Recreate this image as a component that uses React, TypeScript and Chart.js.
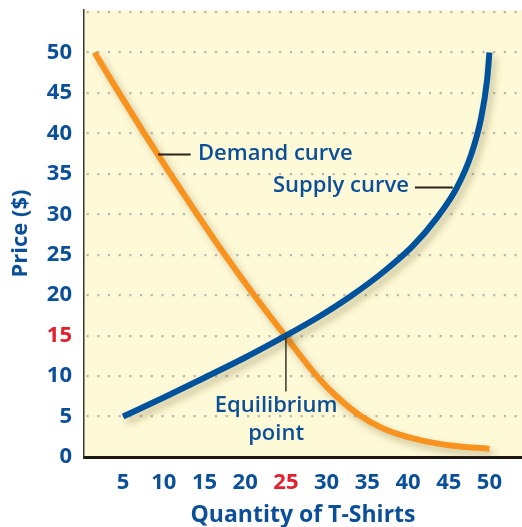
import React, { useEffect, useRef } from "react";
import { Chart, registerables } from "chart.js";

Chart.register(...registerables);

// ---- Data ----
const demandQty = [1.5, 4.5, 7.6, 10.8, 14.1, 17.5, 21.1, 24.9, 28.8, 31.2, 34.0, 37, 41, 45, 50];
const demandPrice = [50, 45, 40, 35, 30, 25, 20, 15, 10, 7.5, 5.2, 3.5, 2.2, 1.45, 1];
const supplyQty = [5, 10, 15, 20, 25, 29, 33, 37, 40.5, 43.5, 46, 47.8, 49, 49.7, 50];
const supplyPrice = [5, 7.35, 9.8, 12.3, 15, 17.3, 19.9, 22.9, 26, 29.5, 33.3, 37.5, 42, 46.5, 50];
const xTicks = [5, 10, 15, 20, 25, 30, 35, 40, 45, 50];
const yTicks = [0, 5, 10, 15, 20, 25, 30, 35, 40, 45, 50, 55];
const yTickLabels = ["0", "5", "10", "15", "20", "25", "30", "35", "40", "45", "50", ""];
const highlightX = 25;
const highlightY = 15;

// annotation anchors (data units)
const demandLabel = { text: "Demand curve", x: 14.2, y: 37.5, lineFrom: 9.3, lineTo: 13.3, lineY: 37.4 };
const supplyLabel = { text: "Supply curve", x: 40.1, y: 33.5, lineFrom: 40.85, lineTo: 45.5, lineY: 33.3 };
const eqLabel = { lines: ["Equilibrium", "point"], x: 23.8, y: [6.3, 2.85], pointX: 25, pointY: 15, lineBottom: 8.1 };

const BLUE_TEXT = "#0b4f98";
const BLUE_LINE = "#00529c";
const ORANGE = "#f7931e";
const RED = "#e4202e";
const BG = "#fef9d6";
const FONT = "'Open Sans', 'Noto Sans', sans-serif";

const bgPlugin = {
  id: "bgFill",
  beforeDraw(chart: any) {
    const { ctx, chartArea } = chart;
    ctx.save();
    ctx.fillStyle = BG;
    ctx.fillRect(chartArea.left, chartArea.top, chartArea.right - chartArea.left, chartArea.bottom - chartArea.top);
    ctx.restore();
  },
};

const shadowPlugin = {
  id: "lineShadow",
  beforeDatasetDraw(chart: any) {
    const ctx = chart.ctx;
    ctx.save();
    ctx.shadowColor = "rgba(110, 100, 50, 0.35)";
    ctx.shadowBlur = 7;
    ctx.shadowOffsetX = 4;
    ctx.shadowOffsetY = 5;
  },
  afterDatasetDraw(chart: any) {
    chart.ctx.restore();
  },
};

const annotationPlugin = {
  id: "annotations",
  afterDatasetsDraw(chart: any) {
    const { ctx, scales } = chart;
    const xs = scales.x;
    const ys = scales.y;
    const px = (v: number) => xs.getPixelForValue(v);
    const py = (v: number) => ys.getPixelForValue(v);
    ctx.save();
    ctx.strokeStyle = "#2a2418";
    ctx.lineWidth = 2;
    ctx.beginPath();
    ctx.moveTo(px(demandLabel.lineFrom), py(demandLabel.lineY));
    ctx.lineTo(px(demandLabel.lineTo), py(demandLabel.lineY));
    ctx.moveTo(px(supplyLabel.lineFrom), py(supplyLabel.lineY));
    ctx.lineTo(px(supplyLabel.lineTo), py(supplyLabel.lineY));
    ctx.stroke();
    ctx.lineWidth = 1.5;
    ctx.strokeStyle = "#3a3428";
    ctx.beginPath();
    ctx.moveTo(px(eqLabel.pointX), py(eqLabel.pointY));
    ctx.lineTo(px(eqLabel.pointX), py(eqLabel.lineBottom));
    ctx.stroke();
    ctx.fillStyle = BLUE_TEXT;
    ctx.font = `600 22px ${FONT}`;
    ctx.textBaseline = "middle";
    ctx.textAlign = "left";
    ctx.fillText(demandLabel.text, px(demandLabel.x), py(demandLabel.y));
    ctx.textAlign = "right";
    ctx.fillText(supplyLabel.text, px(supplyLabel.x), py(supplyLabel.y));
    ctx.textAlign = "center";
    eqLabel.lines.forEach((t, i) => ctx.fillText(t, px(eqLabel.x), py(eqLabel.y[i])));
    ctx.restore();
  },
};

export default function App() {
  const ref = useRef<HTMLCanvasElement | null>(null);
  useEffect(() => {
    document.body.style.margin = "0";
    const canvas = ref.current;
    if (!canvas) return;
    const chart = new Chart(canvas, {
      type: "line",
      data: {
        datasets: [
          {
            label: "Supply",
            data: supplyQty.map((q, i) => ({ x: q, y: supplyPrice[i] })),
            borderColor: BLUE_LINE,
            borderWidth: 6,
            pointRadius: 0,
            cubicInterpolationMode: "monotone",
            fill: false,
          },
          {
            label: "Demand",
            data: demandQty.map((q, i) => ({ x: q, y: demandPrice[i] })),
            borderColor: ORANGE,
            borderWidth: 6,
            pointRadius: 0,
            cubicInterpolationMode: "monotone",
            fill: false,
          },
        ],
      },
      options: {
        responsive: false,
        animation: false,
        devicePixelRatio: 1,
        layout: { padding: { top: 10, right: 0, left: 0, bottom: 0 } },
        plugins: { legend: { display: false }, tooltip: { enabled: false } },
        scales: {
          x: {
            type: "linear",
            min: 0.2,
            max: 54,
            afterBuildTicks: (scale: any) => {
              scale.ticks = xTicks.map((v) => ({ value: v }));
            },
            afterFit: (scale: any) => {
              scale.height = 70;
              scale.paddingLeft = 0;
              scale.paddingRight = 0;
            },
            grid: { display: false, drawTicks: false },
            border: { display: true, color: "#1b1712", width: 3 },
            ticks: {
              padding: 13,
              maxRotation: 0,
              autoSkip: false,
              font: { family: FONT, size: 22, weight: "bold" },
              color: (c: any) => (c.tick && c.tick.value === highlightX ? RED : BLUE_TEXT),
              callback: (v: any) => String(v),
            },
            title: {
              display: true,
              text: "Quantity of T-Shirts",
              color: BLUE_TEXT,
              font: { family: FONT, size: 23, weight: "bold", lineHeight: 1 },
              padding: { top: 0, bottom: 0 },
            },
          },
          y: {
            type: "linear",
            min: 0,
            max: 55.25,
            afterBuildTicks: (scale: any) => {
              scale.ticks = yTicks.map((v) => ({ value: v }));
            },
            afterFit: (scale: any) => {
              scale.width = 84;
              scale.paddingTop = 0;
              scale.paddingBottom = 0;
            },
            grid: {
              display: true,
              drawTicks: false,
              color: "#b9b7ad",
              lineWidth: 2.2,
            },
            border: { display: true, color: "#3a3630", width: 1.5, dash: [2.2, 8.5], dashOffset: -2 },
            ticks: {
              padding: 12,
              autoSkip: false,
              font: { family: FONT, size: 22, weight: "bold" },
              color: (c: any) => (c.tick && c.tick.value === highlightY ? RED : BLUE_TEXT),
              callback: (v: any, i: number) => yTickLabels[i] ?? "",
            },
            title: {
              display: true,
              text: "Price ($)",
              color: BLUE_TEXT,
              font: { family: FONT, size: 22, weight: "bold", lineHeight: 1 },
              padding: { top: 10, bottom: 0 },
            },
          },
        },
      },
      plugins: [bgPlugin, shadowPlugin, annotationPlugin],
    } as any);
    return () => chart.destroy();
  }, []);
  return (
    <div style={{ width: 522, height: 527 }}>
      <canvas ref={ref} width={522} height={527} style={{ display: "block" }} />
    </div>
  );
}
